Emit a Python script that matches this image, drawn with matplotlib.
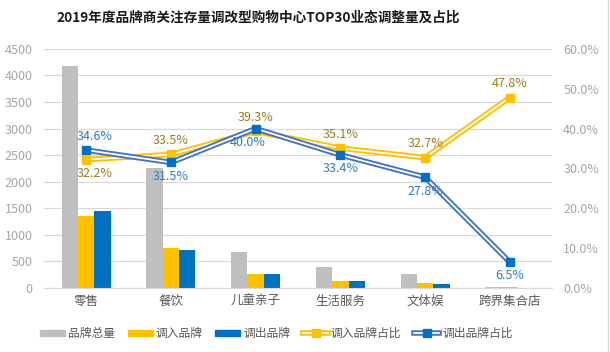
import matplotlib
matplotlib.use("Agg")
import matplotlib.pyplot as plt
import numpy as np
from matplotlib.lines import Line2D
from matplotlib.patches import Patch
from matplotlib.legend_handler import HandlerTuple
from matplotlib.ticker import FuncFormatter, MultipleLocator

plt.rcParams["font.family"] = ["Noto Sans CJK SC", "DejaVu Sans"]

categories = ["零售", "餐饮", "儿童亲子", "生活服务", "文体娱", "跨界集合店"]
brand_total = [4180, 2262, 669, 400, 269, 23]
brand_in = [1346, 758, 263, 140, 88, 11]
brand_out = [1446, 712, 268, 134, 75, 1.5]
in_share = [32.2, 33.5, 39.3, 35.1, 32.7, 47.8]
out_share = [34.6, 31.5, 40.0, 33.4, 27.8, 6.5]

GRAY = "#BFBFBF"
YELLOW = "#FFC000"
BLUE = "#0070C0"
BLUE_LINE = "#4472C4"
GOLD_TXT = "#9C7A24"
BLUE_TXT = "#2E7BC4"
TICK = "#A6A6A6"

fig = plt.figure(figsize=(6.1, 3.52), dpi=100)
ax = fig.add_axes([0.072, 0.182, 0.833, 0.679])
ax2 = ax.twinx()

x = np.arange(len(categories))
w = 0.193
ax.bar(x - w, brand_total, w, color=GRAY, zorder=2)
ax.bar(x, brand_in, w, color=YELLOW, zorder=2)
ax.bar(x + w, brand_out, w, color=BLUE, zorder=2)

ax.set_xlim(-0.5, len(categories) - 0.5)
ax.set_ylim(0, 4500)
ax.yaxis.set_major_locator(MultipleLocator(500))
ax.grid(axis="y", color="#D9D9D9", linewidth=0.9, zorder=0)
ax.set_axisbelow(True)
for s in ["top", "left", "right"]:
    ax.spines[s].set_visible(False)
    ax2.spines[s].set_visible(False)
ax.spines["bottom"].set_color("#D9D9D9")
ax2.spines["bottom"].set_visible(False)
ax.tick_params(axis="y", length=0, labelsize=9, labelcolor=TICK, pad=8)
ax.tick_params(axis="x", length=0, labelsize=9, labelcolor="#595959", pad=5)
ax.set_xticks(x)
ax.set_xticklabels(categories)

ax2.set_ylim(0, 60)
ax2.yaxis.set_major_locator(MultipleLocator(10))
ax2.yaxis.set_major_formatter(FuncFormatter(lambda v, p: f"{v:.1f}%"))
ax2.tick_params(axis="y", length=0, labelsize=9, labelcolor=TICK, pad=8)


def double_line(vals, color, marker_color, z):
    ax2.plot(x, vals, color=color, linewidth=4.0, zorder=z, solid_capstyle="butt")
    ax2.plot(x, vals, color="white", linewidth=1.3, zorder=z + 0.1)
    ax2.plot(x, vals, linestyle="none", marker="s", markersize=5.8,
             color=marker_color, zorder=z + 0.2)


double_line(in_share, YELLOW, YELLOW, 3)
double_line(out_share, BLUE_LINE, BLUE, 4)

# label placement: +1 above, -1 below; small x nudges in pixels
in_side = [-1, 1, 1, 1, 1, 1]
out_side = [1, -1, -1, -1, -1, -1]
in_dx = [8, 0, 0, 0, 0, 0]
out_dx = [8, 0, -8, 0, 0, 0]
for i in range(len(categories)):
    ax2.annotate(f"{in_share[i]:.1f}%", (x[i], in_share[i]),
                 xytext=(in_dx[i] * 0.72, in_side[i] * 10), textcoords="offset points",
                 ha="center", va="center", fontsize=9, color=GOLD_TXT, zorder=6)
    ax2.annotate(f"{out_share[i]:.1f}%", (x[i], out_share[i]),
                 xytext=(out_dx[i] * 0.72, out_side[i] * 10), textcoords="offset points",
                 ha="center", va="center", fontsize=9, color=BLUE_TXT, zorder=6)

fig.text(0.423, 0.949, "2019年度品牌商关注存量调改型购物中心TOP30业态调整量及占比",
         ha="center", va="center", fontsize=9.8, fontweight="bold", color="#1A1A1A")

h_in = (Line2D([], [], color=YELLOW, linewidth=4.0),
        Line2D([], [], color="white", linewidth=1.3),
        Line2D([], [], linestyle="none", marker="s", markersize=5.8, color=YELLOW))
h_out = (Line2D([], [], color=BLUE_LINE, linewidth=4.0),
         Line2D([], [], color="white", linewidth=1.3),
         Line2D([], [], linestyle="none", marker="s", markersize=5.8, color=BLUE))
handles = [Patch(color=GRAY), Patch(color=YELLOW), Patch(color=BLUE), h_in, h_out]
labels = ["品牌总量", "调入品牌", "调出品牌", "调入品牌占比", "调出品牌占比"]
leg = fig.legend(handles, labels, loc="center", bbox_to_anchor=(0.453, 0.052), ncol=5,
                 frameon=False, fontsize=8.5, handlelength=2.1, handleheight=0.5,
                 columnspacing=1.1, handletextpad=0.25,
                 handler_map={tuple: HandlerTuple(ndivide=1)})
for t in leg.get_texts():
    t.set_color("#595959")

fig.add_artist(Line2D([0.997, 0.997], [0.0, 1.0], color="#D9D9D9", linewidth=1.0,
                      transform=fig.transFigure))

fig.savefig("out.png", dpi=100)
